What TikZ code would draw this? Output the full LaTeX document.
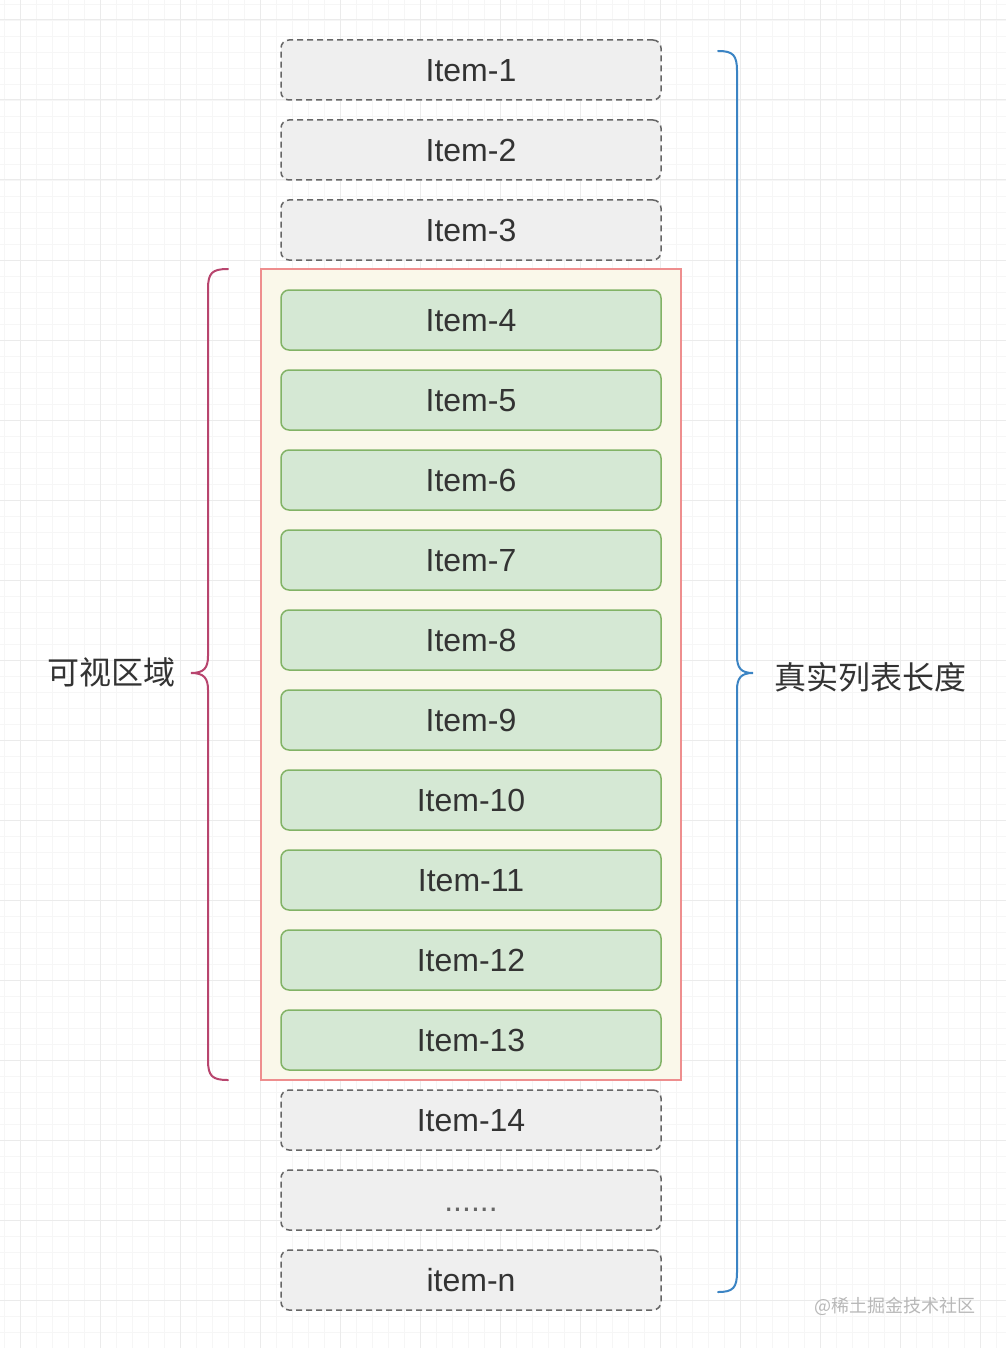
\documentclass[tikz,border=0pt]{standalone}
\usepackage{fontspec}
\setmainfont{Liberation Sans}
\newfontfamily\cjk{Noto Sans CJK SC}
\usetikzlibrary{positioning}
\definecolor{gridmajor}{HTML}{EBEBEB}
\definecolor{gridminor}{HTML}{F6F6F6}
\definecolor{hiddenfill}{HTML}{EFEFEF}
\definecolor{hiddenline}{HTML}{666666}
\definecolor{shownfill}{HTML}{D5E8D4}
\definecolor{shownline}{HTML}{82B366}
\definecolor{viewfill}{HTML}{FAF8EA}
\definecolor{viewline}{HTML}{EE8E8E}
\definecolor{leftbrace}{HTML}{B8456E}
\definecolor{rightbrace}{HTML}{3B84C4}
\definecolor{itemtext}{HTML}{333333}
\begin{document}
\begin{tikzpicture}[x=1pt,y=-1pt,node distance=20pt,
hidden/.style={
% The shape:
rectangle,rounded corners=8pt,
draw=hiddenline,fill=hiddenfill,
line width=1.5pt,dash pattern=on 6pt off 4pt,
minimum width=380pt,minimum height=60pt,
inner sep=0pt,outer sep=0pt,
text height=23pt,text depth=0pt,
text=itemtext,font=\fontsize{32}{36}\selectfont
},
shown/.style={
hidden,solid,
draw=shownline,fill=shownfill
},
viewport/.style={
rectangle,draw=viewline,fill=viewfill,
line width=1.5pt,
minimum width=420pt,minimum height=811pt,
inner sep=0pt
},
label/.style={
text=itemtext,font=\cjk\fontsize{32}{36}\selectfont
},
brace/.style={line width=2pt,line cap=round}
]
\useasboundingbox (0,0) rectangle (1006,1348);
\fill[white] (0,0) rectangle (1006,1348);
% grid
\foreach \g in {4,20,...,1348} {
\draw[gridminor,line width=0.8pt] (\g,0) -- (\g,1348);
\draw[gridminor,line width=0.8pt] (0,\g) -- (1006,\g);
}
\foreach \g in {20,100,...,1348} {
\draw[gridmajor,line width=1pt] (\g,0) -- (\g,1348);
\draw[gridmajor,line width=1pt] (0,\g) -- (1006,\g);
}
% visible area
\node (view) [viewport] at (471,674.5) {};
% items
\node (i1) [hidden] at (471,70) {Item-1};
\node (i2) [hidden,below=of i1] {Item-2};
\node (i3) [hidden,below=of i2] {Item-3};
\node (i4) [shown,below=30pt of i3] {Item-4};
\node (i5) [shown,below=of i4] {Item-5};
\node (i6) [shown,below=of i5] {Item-6};
\node (i7) [shown,below=of i6] {Item-7};
\node (i8) [shown,below=of i7] {Item-8};
\node (i9) [shown,below=of i8] {Item-9};
\node (i10) [shown,below=of i9] {Item-10};
\node (i11) [shown,below=of i10] {Item-11};
\node (i12) [shown,below=of i11] {Item-12};
\node (i13) [shown,below=of i12] {Item-13};
\node (i14) [hidden,below=of i13] {Item-14};
\node (idots) [hidden,below=of i14,text=hiddenline] {......};
\node (in) [hidden,below=of idots] {item-n};
% braces
\draw[brace,leftbrace] (228,269) .. controls (212,269) and (208,273) .. (208,289) -- (208,656)
  .. controls (208,668) and (204,673) .. (191,673) .. controls (204,673) and (208,678) .. (208,690)
  -- (208,1060) .. controls (208,1076) and (212,1080) .. (228,1080);
\draw[brace,rightbrace] (718,51) .. controls (733,51) and (737,55) .. (737,71) -- (737,656)
  .. controls (737,668) and (741,673) .. (753,673) .. controls (741,673) and (737,678) .. (737,690)
  -- (737,1272) .. controls (737,1288) and (733,1292) .. (718,1292);
% labels
\node (visible) [label] at (111,672) {可视区域};
\node (reallen) [label] at (870,677) {真实列表长度};
\node (mark) [text=black!28,font=\cjk\fontsize{18}{20}\selectfont] at (895,1306) {@稀土掘金技术社区};
\end{tikzpicture}
\end{document}
